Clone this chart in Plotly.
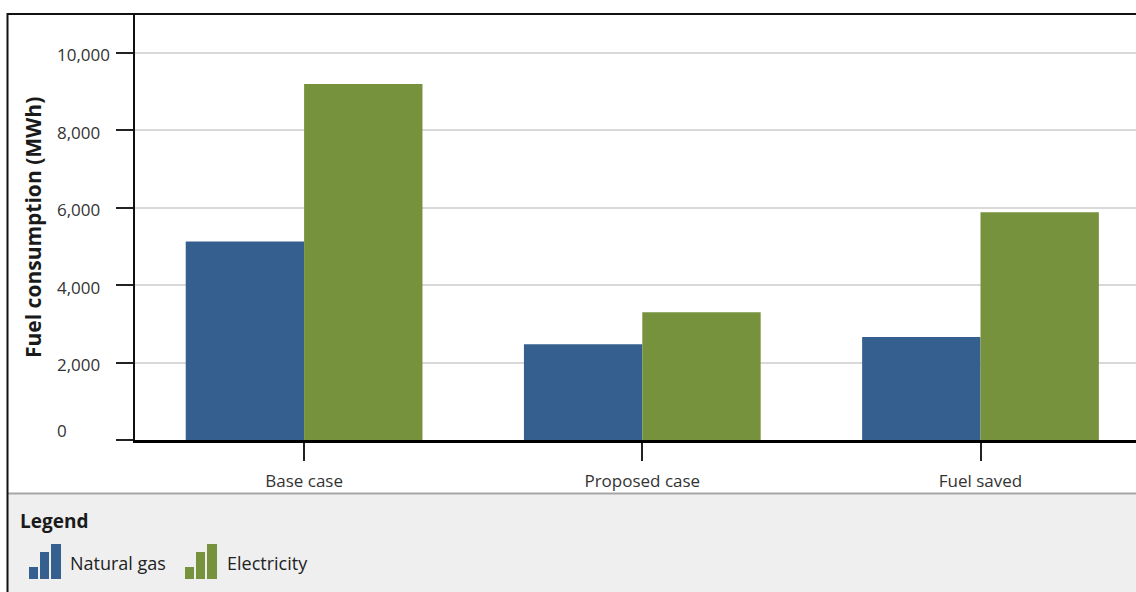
import plotly.graph_objects as go

categories = ["Base case", "Proposed case", "Fuel saved"]
natural_gas = [5120, 2470, 2660]
electricity = [9190, 3300, 5880]
y_ticks = [0, 2000, 4000, 6000, 8000, 10000]
series_names = ["Natural gas", "Electricity"]
colors = ["#355f8f", "#76923c"]

# page body margin is removed below, so screen pixels == figure pixels
SW, SH = 1136, 592
W, H = SW, SH
L = 135
T = 14
BOT = 440
B = H - BOT
PW, PH = W - L, BOT - T
CAT_PX = 338.2  # pixels per category step
x_range = [-0.5, -0.5 + PW / CAT_PX]


def px(x):
    return (x - L) / PW


def py(y):
    return (BOT - y) / PH


fig = go.Figure()
fig.add_trace(go.Bar(x=categories, y=natural_gas, name=series_names[0],
                     marker=dict(color=colors[0], line=dict(width=0))))
fig.add_trace(go.Bar(x=categories, y=electricity, name=series_names[1],
                     marker=dict(color=colors[1], line=dict(width=0))))

font_fam = "Open Sans, Noto Sans, sans-serif"

shapes = []
shapes.append(dict(type="rect", xref="paper", yref="paper",
                   x0=px(7), x1=px(SW + 20), y0=py(494), y1=py(SH + 20),
                   fillcolor="#efefef", line=dict(width=0), layer="below"))
shapes.append(dict(type="line", xref="paper", yref="paper",
                   x0=px(7), x1=px(SW + 20), y0=py(493.5), y1=py(493.5),
                   line=dict(color="#a6a6a6", width=2)))
shapes.append(dict(type="line", xref="paper", yref="paper",
                   x0=px(7), x1=px(SW + 20), y0=py(14), y1=py(14),
                   line=dict(color="#111111", width=2)))
shapes.append(dict(type="line", xref="paper", yref="paper",
                   x0=px(7.5), x1=px(7.5), y0=py(13), y1=py(SH + 20),
                   line=dict(color="#111111", width=2)))


def icon(x0, color):
    bars = [(0, 9, 567), (11, 20, 552), (22, 32, 544)]
    for a, b, top in bars:
        shapes.append(dict(type="rect", xref="paper", yref="paper",
                           x0=px(x0 + a), x1=px(x0 + b), y0=py(579), y1=py(top),
                           fillcolor=color, line=dict(width=0)))


icon(29, colors[0])
icon(185, colors[1])

annotations = [
    dict(text="<b>Fuel consumption (MWh)</b>", xref="paper", yref="paper",
         x=px(33), y=py(228), textangle=-90, showarrow=False,
         xanchor="center", yanchor="middle",
         font=dict(family=font_fam, size=21, color="#1a1a1a")),
    dict(text="<b>Legend</b>", xref="paper", yref="paper",
         x=px(18), y=py(521), showarrow=False, xanchor="left", yanchor="middle",
         font=dict(family=font_fam, size=19, color="#1a1a1a")),
    dict(text=series_names[0], xref="paper", yref="paper",
         x=px(68), y=py(563), showarrow=False, xanchor="left", yanchor="middle",
         font=dict(family=font_fam, size=18, color="#222222")),
    dict(text=series_names[1], xref="paper", yref="paper",
         x=px(225), y=py(563), showarrow=False, xanchor="left", yanchor="middle",
         font=dict(family=font_fam, size=18, color="#222222")),
]

# y tick labels: left aligned in the reference, "0" lifted above its tick
for v in y_ticks:
    annotations.append(dict(
        text=f"{v:,}", xref="paper", yref="y", x=px(55), y=v,
        showarrow=False, xanchor="left", yanchor="middle",
        yshift=(10 if v == 0 else -2),
        font=dict(family=font_fam, size=17, color="#333333")))

fig.update_layout(
    width=W, height=H,
    margin=dict(l=L, r=0, t=T, b=B, pad=0),
    barmode="group", bargap=0.3, bargroupgap=0,
    plot_bgcolor="white", paper_bgcolor="white",
    showlegend=False, hovermode=False,
    shapes=shapes, annotations=annotations,
    font=dict(family=font_fam, size=17, color="#333333"),
    xaxis=dict(type="category", categoryorder="array", categoryarray=categories,
               range=x_range, showgrid=False, zeroline=False,
               showline=True, linecolor="#000000", linewidth=3,
               ticks="outside", ticklen=18, tickwidth=2, tickcolor="#222222",
               ticklabelstandoff=6,
               tickfont=dict(family=font_fam, size=17, color="#333333")),
    yaxis=dict(range=[0, 10994], tickvals=y_ticks, showticklabels=False,
               showgrid=True, gridcolor="#d9d9d9", gridwidth=2,
               zeroline=False, showline=True, linecolor="#111111", linewidth=2,
               ticks="outside", ticklen=17, tickwidth=2, tickcolor="#222222"),
)

fig.write_html(
    "out.html",
    config={"displayModeBar": False},
    post_script="document.body.style.margin='0';document.body.style.overflow='hidden';",
)
